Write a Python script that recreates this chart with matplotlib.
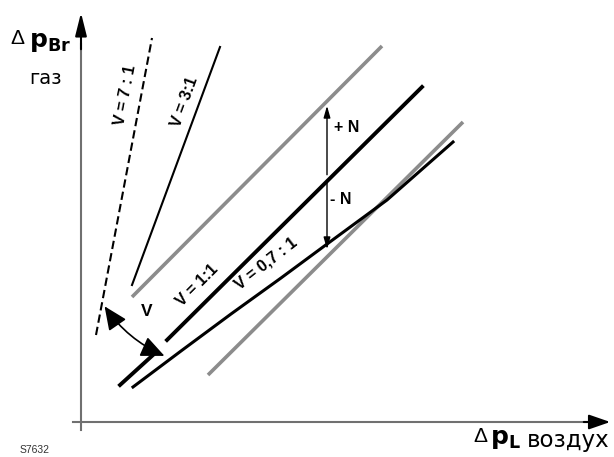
import matplotlib.pyplot as plt
from matplotlib.patches import FancyArrowPatch

plt.rcParams['font.family'] = ['Liberation Sans', 'DejaVu Sans']

# diagram coordinates: origin at the axis crossing, units = pixels
line_7_1_x = [15, 71]
line_7_1_y = [87, 384]
line_3_1_x = [51, 139]
line_3_1_y = [137, 375]
upper_x = [51, 301]
upper_y = [125, 376]
line_1_1_lo_x = [39, 72]
line_1_1_lo_y = [37, 67]
line_1_1_x = [86, 341]
line_1_1_y = [82, 335]
line_07_x = [52, 100, 150, 200, 242, 306, 372]
line_07_y = [35, 71, 108, 144, 175, 222, 280]
lower_x = [127, 382]
lower_y = [47, 300]
n_x = 246
n_top = 319
n_bottom = 170

fig = plt.figure(figsize=(6.14, 4.57), dpi=100)
ax = fig.add_axes([0, 0, 1, 1])
ax.set_xlim(-81, 533)
ax.set_ylim(-35, 422)
ax.axis('off')

# axes arrows
ax.plot([-8, 505], [0, 0], color='#707070', lw=1.5)
ax.plot([0, 0], [-8, 378], color='#707070', lw=1.5)
ax.annotate('', xy=(532, 0), xytext=(500, 0),
            arrowprops=dict(arrowstyle='-|>,head_length=1.3,head_width=0.45', color='black', lw=1.5))
ax.annotate('', xy=(0, 412), xytext=(0, 370),
            arrowprops=dict(arrowstyle='-|>,head_length=1.4,head_width=0.35', color='black', lw=1.5))

gray = '#8c8c8c'
ax.plot(upper_x, upper_y, color=gray, lw=2.6, solid_capstyle='butt')
ax.plot(lower_x, lower_y, color=gray, lw=2.6, solid_capstyle='butt')
ax.plot(line_7_1_x, line_7_1_y, color='black', lw=1.5, ls=(0, (4, 2)))
ax.plot(line_3_1_x, line_3_1_y, color='black', lw=1.5)
ax.plot(line_1_1_lo_x, line_1_1_lo_y, color='black', lw=2.8)
ax.plot(line_1_1_x, line_1_1_y, color='black', lw=2.8)
ax.plot(line_07_x, line_07_y, color='black', lw=2.2, solid_joinstyle='round')

# N arrow
ax.annotate('', xy=(n_x, n_top), xytext=(n_x, (n_top + n_bottom) / 2),
            arrowprops=dict(arrowstyle='-|>,head_length=0.7,head_width=0.2', color='black', lw=1))
ax.annotate('', xy=(n_x, n_bottom), xytext=(n_x, (n_top + n_bottom) / 2),
            arrowprops=dict(arrowstyle='-|>,head_length=0.7,head_width=0.2', color='black', lw=1))
ax.text(253, 295, '+ N', fontsize=11.5, fontweight='bold', va='center')
ax.text(249, 222, '- N', fontsize=11.5, fontweight='bold', va='center')

# V arc
arc = FancyArrowPatch((22, 118), (86, 65), connectionstyle='arc3,rad=0.15',
                      arrowstyle='<|-|>,head_length=9,head_width=4', color='black', lw=1.2,
                      mutation_scale=1.6)
ax.add_patch(arc)
ax.text(66, 110, 'V', fontsize=12.5, fontweight='bold', ha='center', va='center')

# line labels
ax.text(44, 327, 'V = 7 : 1', fontsize=11.5, fontweight='bold', rotation=79,
        ha='center', va='center')
ax.text(104, 320, 'V = 3:1', fontsize=11.5, fontweight='bold', rotation=70,
        ha='center', va='center')
ax.text(116, 137, 'V = 1:1', fontsize=11.5, fontweight='bold', rotation=45,
        ha='center', va='center')
ax.text(185, 158, 'V = 0,7 : 1', fontsize=11.5, fontweight='bold', rotation=38,
        ha='center', va='center')

# axis titles
ax.text(-71, 384, 'Δ', fontsize=15, ha='left', va='center')
ax.text(-52, 380, r'$\mathbf{p_{Br}}$', fontsize=18, ha='left', va='center')
ax.text(-52, 343, 'газ', fontsize=14, ha='left', va='center', family='DejaVu Sans')
ax.text(392, -15, 'Δ', fontsize=15, ha='left', va='center')
ax.text(409, -17, r'$\mathbf{p_{L}}$', fontsize=18, ha='left', va='center')
ax.text(446, -19, 'воздух', fontsize=16.5, ha='left', va='center', family='DejaVu Sans')
ax.text(-61, -28, 'S7632', fontsize=7.5, ha='left', va='center', color='#333333')

fig.savefig('out.png', dpi=100)
